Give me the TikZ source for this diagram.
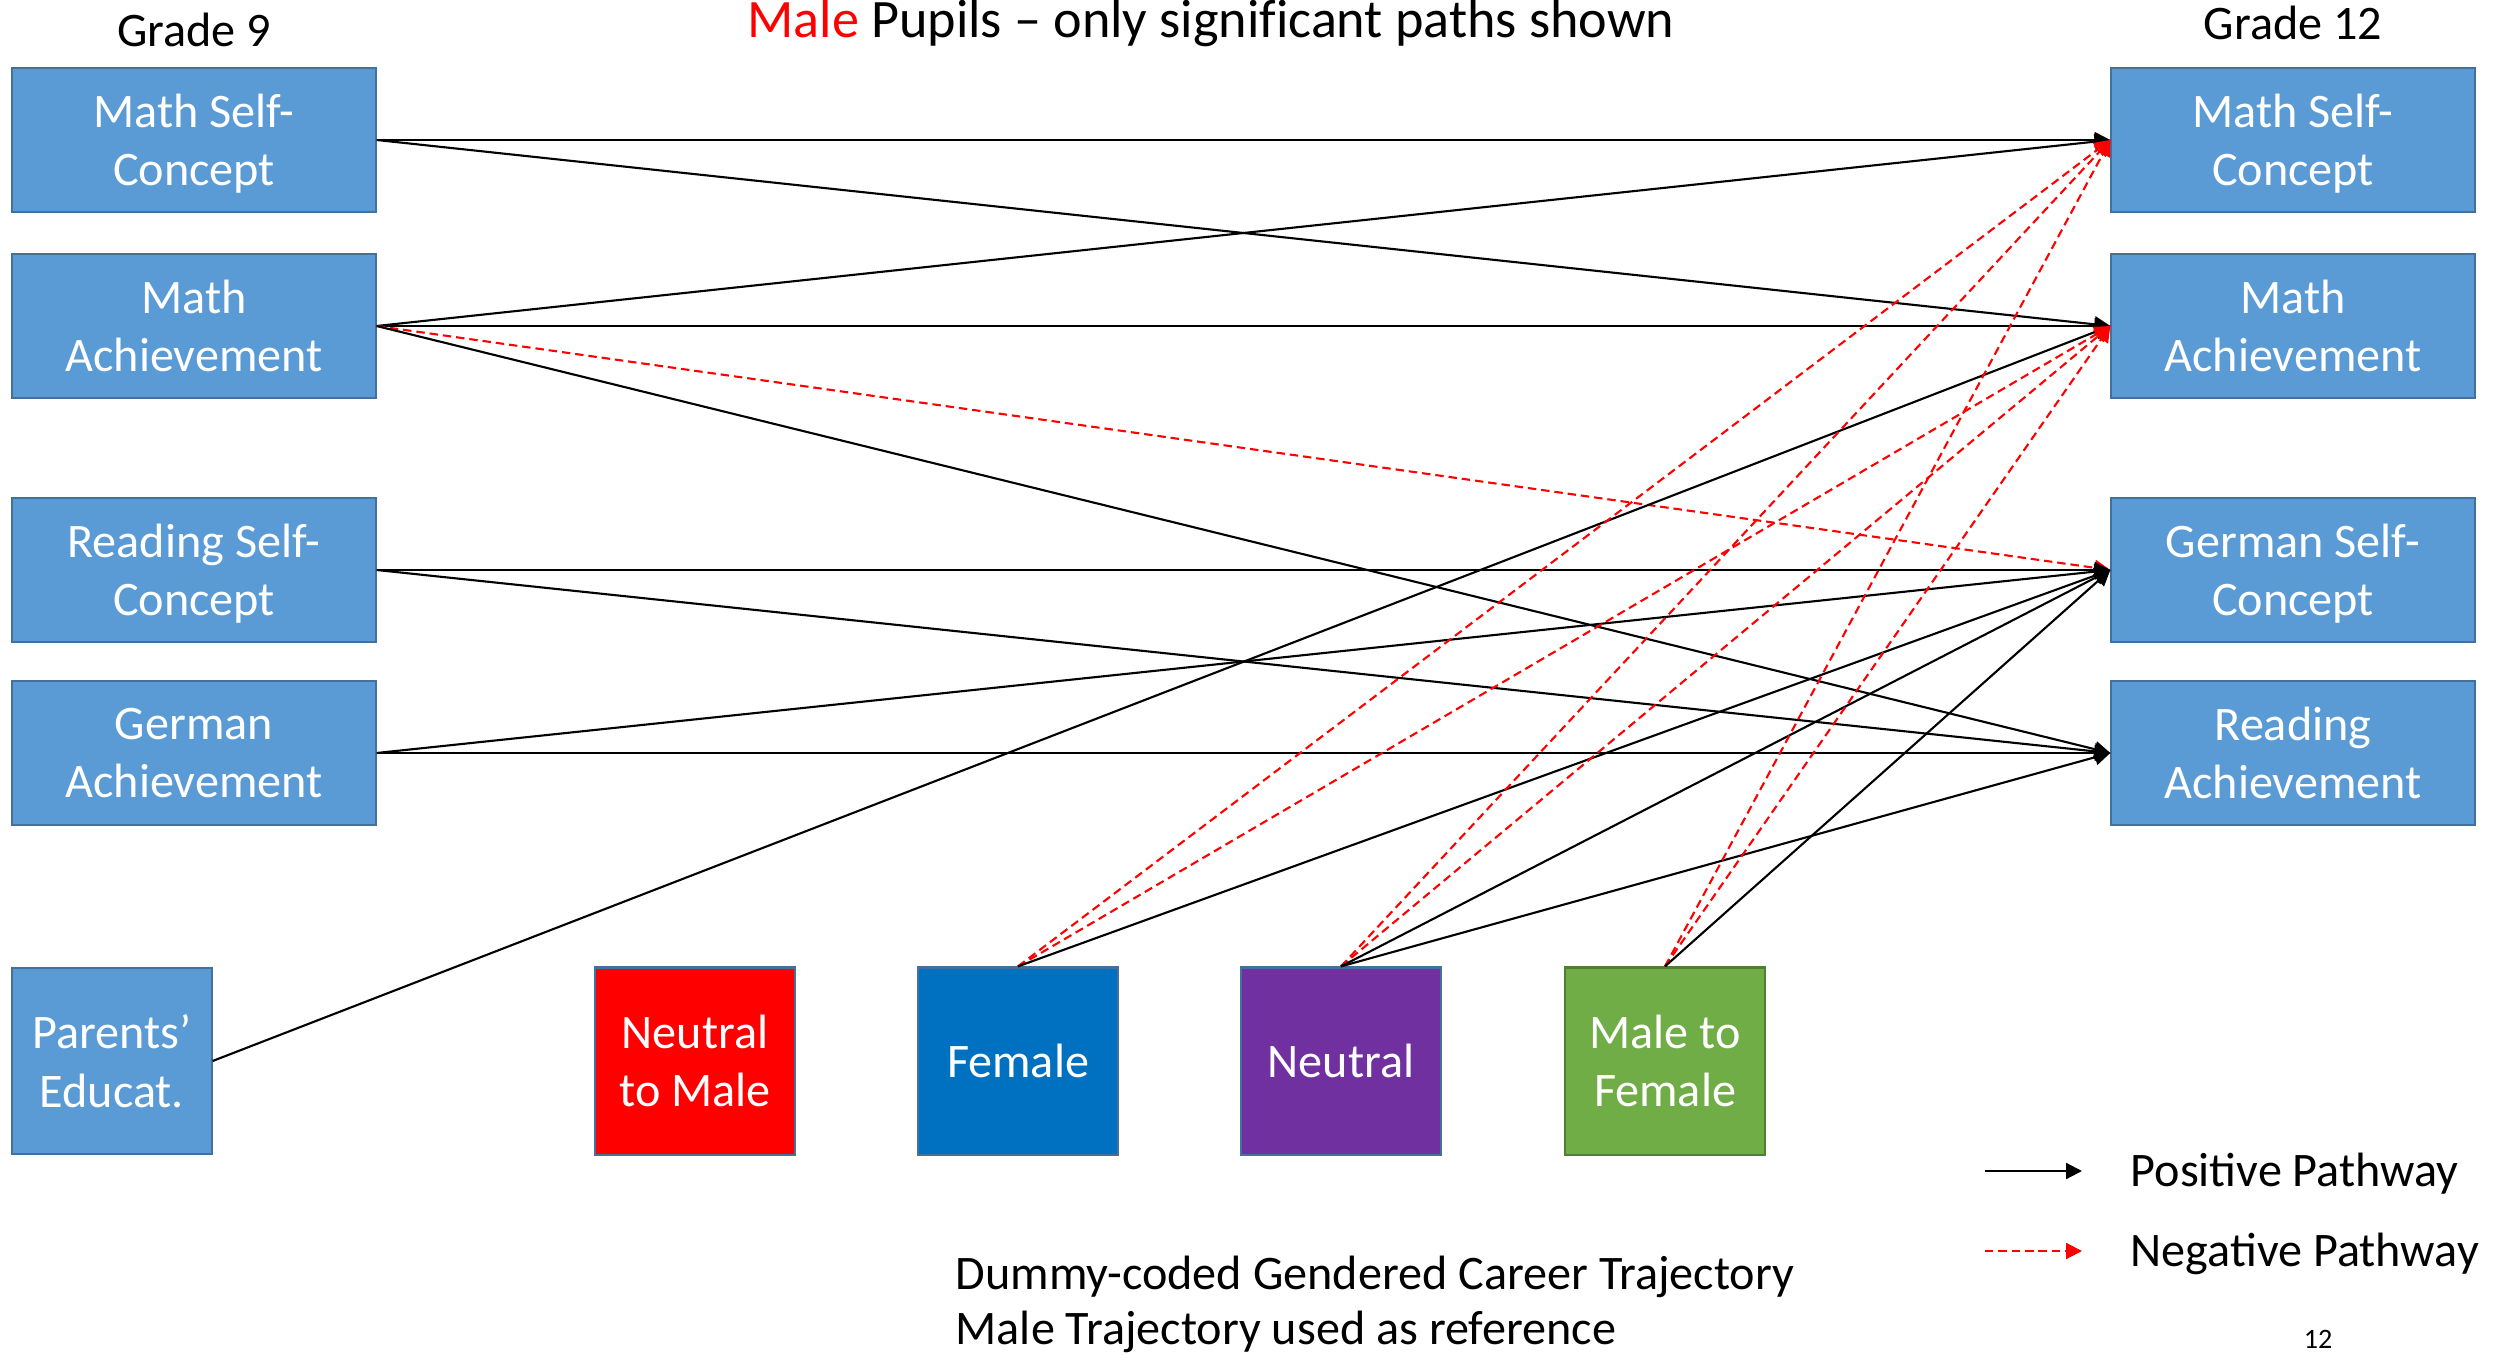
\documentclass[tikz,border=0pt]{standalone}
\usepackage{fontspec}
\setmainfont{Carlito}
\usetikzlibrary{arrows.meta}
\definecolor{varblue}{HTML}{5B9BD5}
\definecolor{varedge}{HTML}{41719C}
\definecolor{femblue}{HTML}{0070C0}
\definecolor{neutpurple}{HTML}{7030A0}
\definecolor{mtfgreen}{HTML}{70AD47}
\definecolor{mtfedge}{HTML}{507E32}

\begin{document}
\begin{tikzpicture}[x=0.01cm, y=-0.01cm,
  font=\fontsize{13.7}{16.6}\selectfont,
  var/.style={draw=varedge, line width=0.6pt, fill=varblue, text=white, align=center,
    minimum width=3.63cm, minimum height=1.44cm, inner sep=0pt, text depth=0pt},
  traj/.style={var, minimum width=2cm, minimum height=1.87cm},
  plain/.style={anchor=base west, inner xsep=0pt},
  pospath/.style={-{Triangle[length=4.5pt,width=4.5pt]}, line width=0.6pt},
  negpath/.style={pospath, red, dash pattern=on 2.4pt off 1.4pt}]
  \useasboundingbox (0,0) rectangle (2496,1355);

  % Headings
  \node[anchor=base, font=\fontsize{15.4}{18}\selectfont] (title) at (1211,38) {{\color{red}Male} Pupils – only signif\kern0pt icant paths shown};
  \node[anchor=base] (g9) at (194,47) {Grade 9};
  \node[anchor=base] (g12) at (2293,40) {Grade 12};

  % Grade 9 variables
  \node[var] (lmsc) at (194,140) {Math Self-\\Concept};
  \node[var] (lma) at (194,326) {Math\\Achievement};
  \node[var] (lrsc) at (194,570) {Reading Self-\\Concept};
  \node[var] (lga) at (194,753) {German\\Achievement};
  \node[var, minimum width=1.99cm, minimum height=1.86cm] (par) at (112,1061) {Parents’\\Educat.};

  % Grade 12 variables
  \node[var] (rmsc) at (2293,140) {Math Self-\\Concept};
  \node[var] (rma) at (2293,326) {Math\\Achievement};
  \node[var] (rgsc) at (2293,570) {German Self-\\Concept};
  \node[var] (rra) at (2293,753) {Reading\\Achievement};

  % Career trajectories
  \node[traj, fill=red] (ntm) at (695,1061) {Neutral\\to Male};
  \node[traj, fill=femblue] (fem) at (1018,1061) {Female};
  \node[traj, fill=neutpurple] (neu) at (1341,1061) {Neutral};
  \node[traj, fill=mtfgreen, draw=mtfedge] (mtf) at (1665,1061) {Male to\\Female};

  % Paths from grade 9
  \draw[pospath] (lmsc.east) -- (rmsc.west);
  \draw[pospath] (lmsc.east) -- (rma.west);
  \draw[pospath] (lma.east) -- (rmsc.west);
  \draw[pospath] (lma.east) -- (rma.west);
  \draw[negpath] (lma.east) -- (rgsc.west);
  \draw[pospath] (lma.east) -- (rra.west);
  \draw[pospath] (lrsc.east) -- (rgsc.west);
  \draw[pospath] (lrsc.east) -- (rra.west);
  \draw[pospath] (lga.east) -- (rgsc.west);
  \draw[pospath] (lga.east) -- (rra.west);
  \draw[pospath] (par.east) -- (rma.west);

  % Paths from trajectories
  \draw[negpath] (fem.north) -- (rmsc.west);
  \draw[negpath] (fem.north) -- (rma.west);
  \draw[pospath] (fem.north) -- (rgsc.west);
  \draw[negpath] (neu.north) -- (rmsc.west);
  \draw[negpath] (neu.north) -- (rma.west);
  \draw[pospath] (neu.north) -- (rgsc.west);
  \draw[pospath] (neu.north) -- (rra.west);
  \draw[negpath] (mtf.north) -- (rmsc.west);
  \draw[negpath] (mtf.north) -- (rma.west);
  \draw[pospath] (mtf.north) -- (rgsc.west);

  % Legend
  \coordinate (posA) at (1985,1171);
  \coordinate (posB) at (2082,1171);
  \coordinate (negA) at (1985,1251);
  \coordinate (negB) at (2082,1251);
  \draw[pospath] (posA) -- (posB);
  \draw[negpath] (negA) -- (negB);
  \node[plain] (posl) at (2130,1186) {Positive Pathway};
  \node[plain] (negl) at (2130,1266) {Negative Pathway};

  % Notes
  \node[plain] (note1) at (955,1289) {Dummy-coded Gendered Career Trajectory};
  \node[plain] (note2) at (955,1344) {Male Trajectory used as reference};
  \node[anchor=base, font=\fontsize{8}{10}\selectfont] (pg) at (2318,1348) {12};
\end{tikzpicture}
\end{document}
